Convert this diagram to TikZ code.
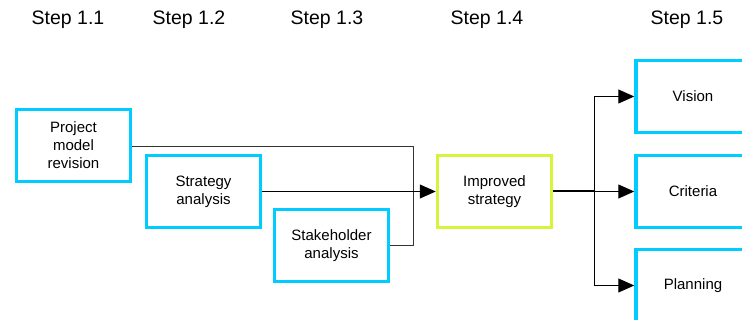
\documentclass[tikz,border=0pt]{standalone}
\usepackage{fontspec}
\setmainfont{Liberation Sans}
\usetikzlibrary{arrows.meta}
\definecolor{boxcyan}{HTML}{00CCFF}
\definecolor{boxlime}{HTML}{D4F53C}
\definecolor{wire}{HTML}{333333}
\begin{document}
\begin{tikzpicture}[x=1pt,y=-1pt,
  stepbox/.style={draw=boxcyan,line width=3.5pt,minimum width=114pt,minimum height=72pt,
    align=center,font=\fontsize{15pt}{18pt}\selectfont,inner sep=0pt},
  keybox/.style={stepbox,draw=boxlime},
  steplabel/.style={font=\fontsize{19.5pt}{22pt}\selectfont,inner sep=0pt},
  conn/.style={draw=wire,line width=1pt},
  arr/.style={draw=black,line width=1pt,-{Triangle[length=16pt,width=14pt,fill=black,color=black]}}]
\clip (0,0) rectangle (742,320);
\useasboundingbox (0,0) rectangle (742,320);

% step headings
\node[steplabel] (s1) at (68,20) {Step 1.1};
\node[steplabel] (s2) at (189,20) {Step 1.2};
\node[steplabel] (s3) at (327,20) {Step 1.3};
\node[steplabel] (s4) at (487,20) {Step 1.4};
\node[steplabel] (s5) at (687,20) {Step 1.5};

% input analyses
\node[stepbox] (b1) at (73.5,145.5) {Project\\model\\revision};
\node[stepbox] (b2) at (203.5,191.5) {Strategy\\analysis};
\node[stepbox] (b3) at (331.5,245.5) {Stakeholder\\analysis};

% result
\node[keybox] (imp) at (494.5,191.5) {Improved\\strategy};

% outputs
\node[stepbox] (v) at (693,96.5) {Vision};
\node[stepbox] (c) at (693,191.5) {Criteria};
\node[stepbox] (p) at (693,285.5) {Planning};

% junctions
\coordinate (j) at (413,191.5);
\coordinate (k) at (594,191.5);

% merging connectors
\draw[conn] ([yshift=-1.5pt]b1.east) -| (j);
\draw[conn] (b3.east) -| (j);
\draw[arr] (b2.east) -- (imp.west);

% splitting connectors
\draw[line width=2pt] (imp.east) -- (k);
\draw[arr] (k) |- (v.west);
\draw[arr] (k) -- (c.west);
\draw[arr] (k) |- (p.west);
\end{tikzpicture}
\end{document}
